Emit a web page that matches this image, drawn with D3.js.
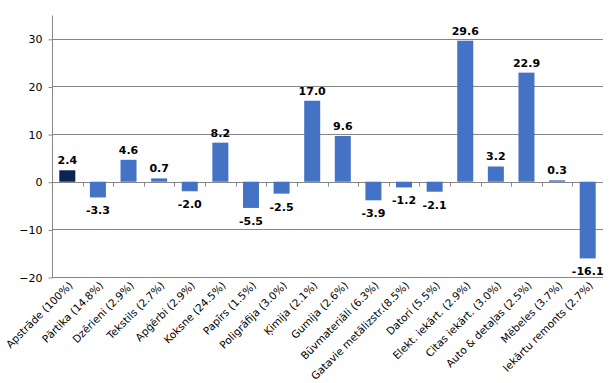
<!DOCTYPE html>
<html>
<head>
<meta charset="utf-8">
<script src="https://cdn.jsdelivr.net/npm/d3@7"></script>
<style>
    body { margin: 0; background: #fff; }
    svg { display: block; font-family: "DejaVu Sans", Verdana, sans-serif; }
</style>
</head>
<body>
<svg width="613" height="383"></svg>
<script>
    // data
    var categories = [
        'Apstrāde (100%)', 'Pārtika (14.8%)', 'Dzērieni (2.9%)', 'Tekstils (2.7%)',
        'Apģērbi (2.9%)', 'Koksne (24.5%)', 'Papīrs (1.5%)', 'Poligrāfija (3.0%)',
        'Ķimija (2.1%)', 'Gumija (2.6%)', 'Būvmateriāli (6.3%)', 'Gatavie metālizstr.(8.5%)',
        'Datori (5.5%)', 'Elekt. iekārt. (2.9%)', 'Citas iekārt. (3.0%)', 'Auto & detaļas (2.5%)',
        'Mēbeles (3.7%)', 'Iekārtu remonts (2.7%)'
    ];
    var values = [2.4, -3.3, 4.6, 0.7, -2.0, 8.2, -5.5, -2.5, 17.0, 9.6, -3.9, -1.2, -2.1, 29.6, 3.2, 22.9, 0.3, -16.1];
    var yTicks = [-20, -10, 0, 10, 20, 30];

    var LEFT = 52, RIGHT = 603, TOP = 15, BOTTOM = 277,
        BAR_WIDTH = 16,
        GRID_COLOR = '#868686',
        BAR_COLOR = '#4472c4',
        TOTAL_COLOR = '#0c2356';

    var svg = d3.select('svg');

    var x = d3.scaleBand()
        .domain(categories)
        .range([LEFT, RIGHT]);

    var y = d3.scaleLinear()
        .domain([-20, 35])
        .range([BOTTOM, TOP]);

    // horizontal grid lines
    svg.append('g')
        .selectAll('line')
        .data(yTicks)
        .join('line')
        .attr('x1', LEFT)
        .attr('x2', RIGHT)
        .attr('y1', function (d) { return Math.round(y(d)) + 0.5; })
        .attr('y2', function (d) { return Math.round(y(d)) + 0.5; })
        .attr('stroke', GRID_COLOR)
        .attr('stroke-width', 1);

    // y axis
    var yAxis = svg.append('g')
        .attr('transform', 'translate(' + (LEFT + 0.5) + ',0.5)')
        .call(d3.axisLeft(y).tickValues(yTicks).tickSize(4).tickPadding(6));
    yAxis.select('.domain').attr('stroke', GRID_COLOR).attr('d', 'M0,' + TOP + 'V' + BOTTOM);
    yAxis.selectAll('.tick line').attr('stroke', GRID_COLOR);
    yAxis.selectAll('.tick text')
        .attr('font-size', 11)
        .attr('font-family', '"DejaVu Sans", Verdana, sans-serif')
        .attr('fill', '#000');

    // bars
    svg.append('g')
        .selectAll('rect')
        .data(values)
        .join('rect')
        .attr('x', function (d, i) { return x(categories[i]) + (x.bandwidth() - BAR_WIDTH) / 2; })
        .attr('width', BAR_WIDTH)
        .attr('y', function (d) { return y(Math.max(0, d)); })
        .attr('height', function (d) { return Math.abs(y(d) - y(0)); })
        .attr('fill', function (d, i) { return i === 0 ? TOTAL_COLOR : BAR_COLOR; });

    // x axis along zero line, small ticks at band boundaries
    var zeroY = Math.round(y(0)) + 0.5;
    svg.append('g')
        .selectAll('line')
        .data(d3.range(1, categories.length))
        .join('line')
        .attr('x1', function (i) { return Math.round(LEFT + i * x.step()) + 0.5; })
        .attr('x2', function (i) { return Math.round(LEFT + i * x.step()) + 0.5; })
        .attr('y1', zeroY)
        .attr('y2', zeroY + 4)
        .attr('stroke', GRID_COLOR);

    // value labels
    svg.append('g')
        .selectAll('text')
        .data(values)
        .join('text')
        .attr('x', function (d, i) { return x(categories[i]) + x.bandwidth() / 2; })
        .attr('y', function (d) { return d >= 0 ? y(d) - 6 : y(d) + 17; })
        .attr('text-anchor', 'middle')
        .attr('font-size', 11)
        .attr('font-weight', 'bold')
        .text(function (d) { return d.toFixed(1); });

    // rotated category labels
    svg.append('g')
        .selectAll('text')
        .data(categories)
        .join('text')
        .attr('transform', function (d) {
            return 'translate(' + (x(d) + x.bandwidth() / 2 + 6) + ',' + (BOTTOM + 9) + ') rotate(-45)';
        })
        .attr('text-anchor', 'end')
        .attr('font-size', 10.5)
        .text(function (d) { return d; });
</script>
</body>
</html>
